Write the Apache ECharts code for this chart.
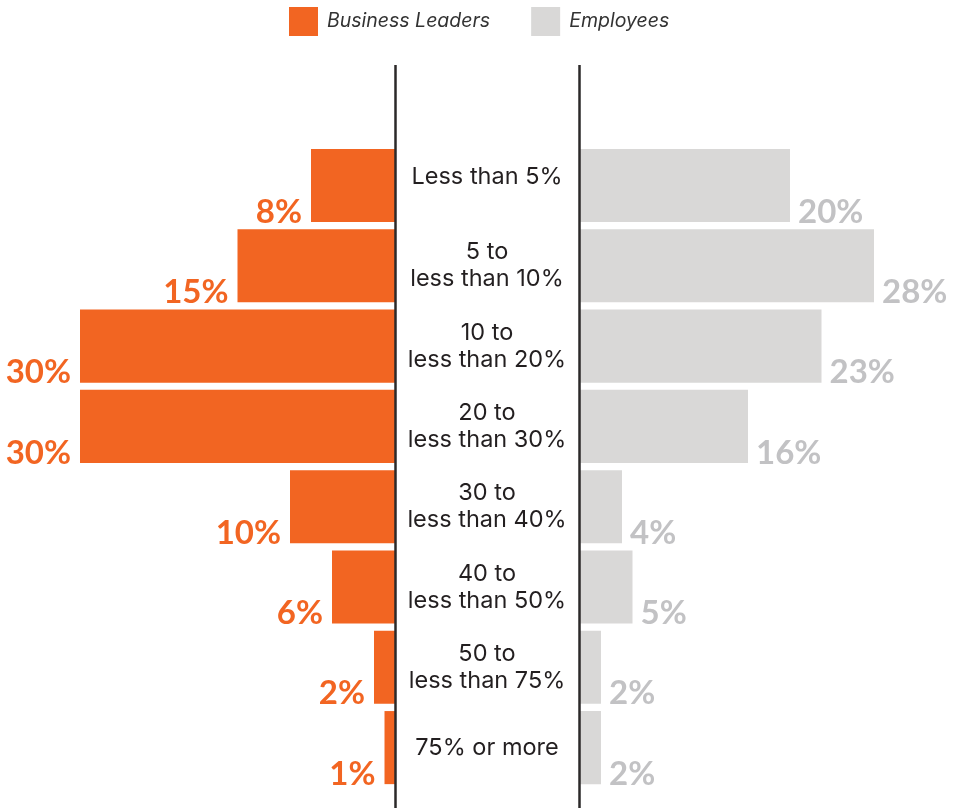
<!DOCTYPE html>
<html>
<head>
<meta charset="utf-8">
<script src="https://cdn.jsdelivr.net/npm/echarts@6/dist/echarts.min.js"></script>
<style>html,body{margin:0;padding:0;background:#fff}#c{width:954px;height:808px}</style>
</head>
<body>
<div id="c"></div>
<script>
const categories = [
  "Less than 5%",
  "5 to\nless than 10%",
  "10 to\nless than 20%",
  "20 to\nless than 30%",
  "30 to\nless than 40%",
  "40 to\nless than 50%",
  "50 to\nless than 75%",
  "75% or more"
];
const businessLeaders = [8, 15, 30, 30, 10, 6, 2, 1];
const employees = [20, 28, 23, 16, 4, 5, 2, 2];
const seriesNames = ["Business Leaders", "Employees"];

const ORANGE = "#F26522";
const GREY = "#D9D8D7";
const GREY_LABEL = "#C2C2C4";
const NUM_FONT = "Lato";
const TXT_FONT = "Inter";

const chart = echarts.init(document.getElementById("c"), null, {renderer: "canvas"});

const gridTop = 145.35, gridBottom = 20.25;

const labelCommon = {
  show: true,
  fontFamily: NUM_FONT,
  fontWeight: "bold",
  fontSize: 33,
  lineHeight: 33,
  formatter: "{c}%",
  verticalAlign: "bottom"
};

chart.setOption({
  animation: false,
  backgroundColor: "#fff",
  legend: {
    top: 7,
    left: 289,
    padding: 0,
    icon: "rect",
    itemWidth: 29,
    itemHeight: 29,
    itemGap: 41,
    textStyle: {fontFamily: TXT_FONT, fontStyle: "italic", fontSize: 19.5, color: "#333", padding: [2, 0, 0, 4]},
    data: seriesNames
  },
  grid: [
    {left: 80, right: 954 - 395, top: gridTop, bottom: gridBottom},
    {left: 580, right: 80, top: gridTop, bottom: gridBottom}
  ],
  xAxis: [
    {gridIndex: 0, type: "value", min: 0, max: 30, inverse: true, show: false},
    {gridIndex: 1, type: "value", min: 0, max: 28, show: false}
  ],
  yAxis: [
    {gridIndex: 0, type: "category", data: categories, inverse: true, show: false},
    {gridIndex: 1, type: "category", data: categories, inverse: true,
     axisLine: {show: false}, axisTick: {show: false},
     axisLabel: {show: true, align: "center", margin: 93, fontFamily: TXT_FONT, fontSize: 23.5, lineHeight: 27, color: "#231F20",
       formatter: function (v, i) { return i === 0 ? "{s|" + v + "}" : v; },
       rich: {s: {fontFamily: TXT_FONT, fontSize: 23.5, lineHeight: 27, color: "#231F20", padding: [0, 0, 18, 0]}}
     }}
  ],
  series: [
    {
      name: seriesNames[0], type: "bar", xAxisIndex: 0, yAxisIndex: 0,
      data: businessLeaders, barCategoryGap: "9%",
      itemStyle: {color: ORANGE},
      label: Object.assign({}, labelCommon, {position: "left", distance: 9, color: ORANGE, offset: [0, 43]})
    },
    {
      name: seriesNames[1], type: "bar", xAxisIndex: 1, yAxisIndex: 1,
      data: employees, barCategoryGap: "9%",
      itemStyle: {color: GREY},
      label: Object.assign({}, labelCommon, {position: "right", distance: 8, color: GREY_LABEL, offset: [0, 43]})
    }
  ],
  graphic: [
    {type: "line", z: 100, shape: {x1: 395.5, y1: 65, x2: 395.5, y2: 808}, style: {stroke: "#2B2929", lineWidth: 2.5}},
    {type: "line", z: 100, shape: {x1: 579.5, y1: 65, x2: 579.5, y2: 808}, style: {stroke: "#2B2929", lineWidth: 2.5}}
  ]
});
</script>
</body>
</html>
